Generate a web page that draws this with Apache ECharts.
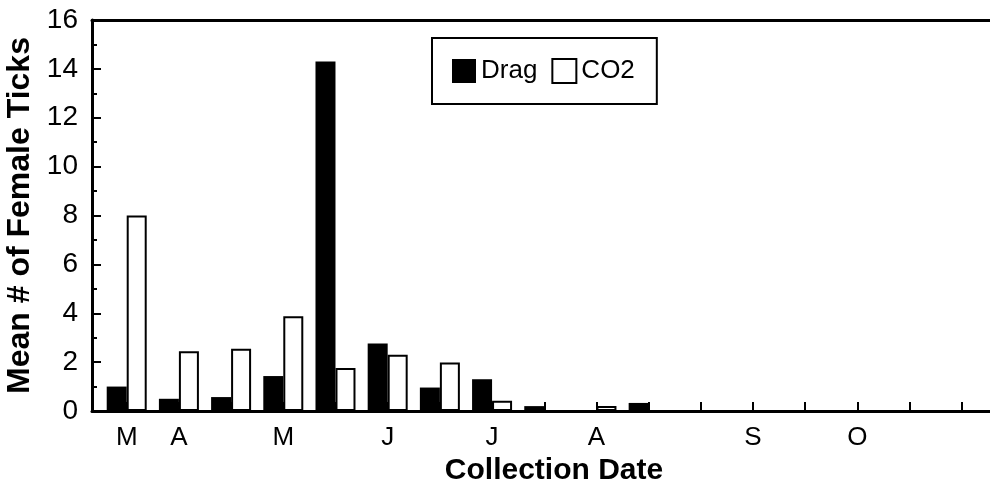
<!DOCTYPE html>
<html>
<head>
<meta charset="utf-8">
<title>Mean # of Female Ticks</title>
<script src="https://cdn.jsdelivr.net/npm/echarts@6/dist/echarts.min.js"></script>
<style>
  html, body { margin: 0; padding: 0; background: #fff; }
  #chart { width: 990px; height: 488px; }
</style>
</head>
<body>
<div id="chart"></div>
<script>
// collection index along the season (one per sampling date)
const collectionIndex = [1, 2, 3, 4, 5, 6, 7, 8, 9, 10, 11];
const dragValues = [1.0, 0.5, 0.57, 1.43, 14.3, 2.76, 0.96, 1.3, 0.2, 0, 0.33];
const co2Values = [8.0, 2.45, 2.55, 3.88, 1.76, 2.3, 1.98, 0.42, 0, 0.2, 0];

const tickPositions = [1, 2, 3, 4, 5, 6, 7, 8, 9, 10, 11, 12, 13, 14, 15, 16, 17];
const monthPositions = [1, 2, 4, 6, 8, 10, 13, 15];
const monthLabels = ['M', 'A', 'M', 'J', 'J', 'A', 'S', 'O'];

const FONT = '"Liberation Sans", Arial, sans-serif';
const INK = '#000';

const chart = echarts.init(document.getElementById('chart'), null, { renderer: 'canvas' });

const toPairs = (values) => values.map((v, i) => [collectionIndex[i], v]);

chart.setOption({
  animation: false,
  backgroundColor: '#fff',
  grid: { left: 92, right: 0, top: 20, bottom: 77, containLabel: false, outerBoundsMode: 'none' },
  legend: {
    left: 432,
    top: 38,
    padding: [20, 22, 20, 20],
    itemGap: 14,
    itemWidth: 24,
    itemHeight: 24,
    borderColor: INK,
    borderWidth: 2,
    icon: 'rect',
    textStyle: { fontFamily: FONT, fontSize: 26, color: INK },
    data: ['Drag', 'CO2'],
  },
  xAxis: [{
    type: 'value',
    min: 0.335,
    max: 17.54,
    name: 'Collection Date',
    nameLocation: 'middle',
    nameGap: 43,
    nameTextStyle: { fontFamily: FONT, fontSize: 30, fontWeight: 'bold', color: INK, padding: [0, 0, 0, 26] },
    axisLine: { show: true, lineStyle: { color: INK, width: 3 } },
    axisTick: {
      show: true,
      inside: true,
      length: 9,
      lineStyle: { color: INK, width: 2 },
      customValues: tickPositions,
    },
    axisLabel: {
      show: true,
      margin: 14,
      fontFamily: FONT,
      fontSize: 26,
      color: INK,
      customValues: monthPositions,
      formatter: (value) => monthLabels[monthPositions.indexOf(value)] || '',
    },
    splitLine: { show: false },
  }, {
    type: 'value',
    position: 'top',
    min: 0.335,
    max: 17.54,
    axisLine: { show: true, lineStyle: { color: INK, width: 3 } },
    axisTick: { show: false },
    axisLabel: { show: false },
    splitLine: { show: false },
  }],
  yAxis: {
    type: 'value',
    min: 0,
    max: 16,
    interval: 2,
    name: 'Mean # of Female Ticks',
    nameLocation: 'middle',
    nameGap: 53,
    nameTextStyle: { fontFamily: FONT, fontSize: 32, fontWeight: 'bold', color: INK },
    axisLine: { show: true, lineStyle: { color: INK, width: 3 } },
    axisTick: { show: true, inside: true, length: 9, lineStyle: { color: INK, width: 2 } },
    minorTick: { show: true, splitNumber: 2, length: 5, lineStyle: { color: INK, width: 2 } },
    axisLabel: { margin: 14, fontFamily: FONT, fontSize: 28, color: INK },
    splitLine: { show: false },
  },
  series: [{
    name: 'Drag',
    type: 'bar',
    barWidth: 20,
    barGap: '0%',
    itemStyle: { color: INK },
    data: toPairs(dragValues),
  }, {
    name: 'CO2',
    type: 'bar',
    barWidth: 20,
    barGap: '0%',
    itemStyle: { color: '#fff', borderColor: INK, borderWidth: 2 },
    data: toPairs(co2Values),
  }],
});
</script>
</body>
</html>
